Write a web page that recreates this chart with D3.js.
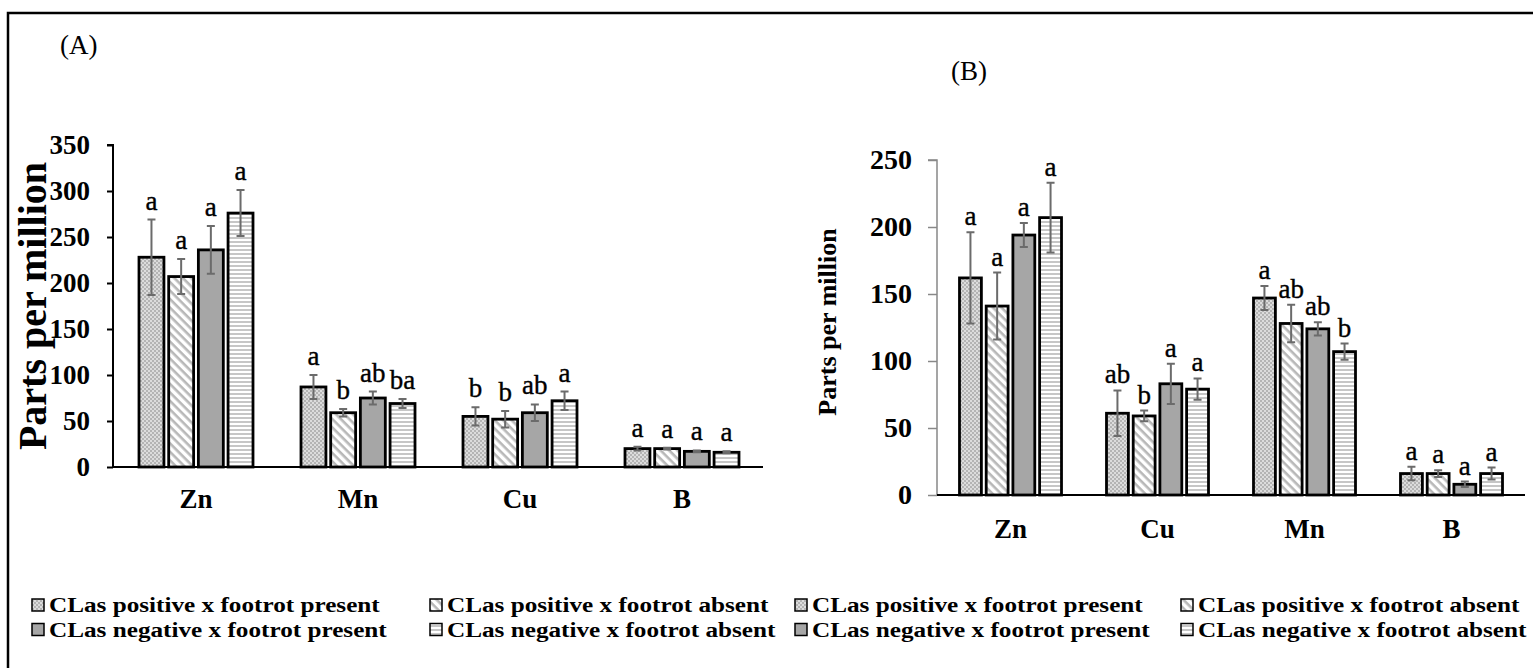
<!DOCTYPE html>
<html><head><meta charset="utf-8">
<script src="https://cdn.jsdelivr.net/npm/d3@7"></script>
<style>body{margin:0;background:#fff}svg{display:block}</style>
</head><body><svg id="c" width="1533" height="668"></svg>
<script>
const seriesNames = ["CLas positive x footrot present","CLas positive x footrot absent","CLas negative x footrot present","CLas negative x footrot absent"];
const catsA = ["Zn","Mn","Cu","B"];
const valsA = [[228,87,55,20],[207,59,52,20],[236,75,59,17],[276,69,72,16]];
const errA = [[41,13,10,2],[19,4,9,1],[26,7,9,1],[25,5,10,1]];
const lettersA = [["a","a","b","a"],["a","b","b","a"],["a","ab","ab","a"],["a","ba","a","a"]];
const ticksA = [0,50,100,150,200,250,300,350];
const catsB = ["Zn","Cu","Mn","B"];
const valsB = [[162,61,147,16],[141,59,128,16],[194,83,124,8],[207,79,107,16]];
const errB = [[34,17,9,5],[25,4,14,2.5],[9,15,5,2],[26,8,6,4.5]];
const lettersB = [["a","ab","a","a"],["a","b","ab","a"],["a","a","ab","a"],["a","a","b","a"]];
const ticksB = [0,50,100,150,200,250];

const svg = d3.select("#c");
const SERIF = "'Liberation Serif','Times New Roman',serif";
function bold(sel){ return sel.attr("font-family",SERIF).attr("font-weight","bold").attr("fill","#000"); }
const defs = svg.append("defs");
const p0 = defs.append("pattern").attr("id","p0").attr("patternUnits","userSpaceOnUse").attr("width",4).attr("height",4);
p0.append("rect").attr("width",4).attr("height",4).attr("fill","#dcdcdc");
p0.append("rect").attr("width",2).attr("height",2).attr("fill","#b4b4b4");
p0.append("rect").attr("x",2).attr("y",2).attr("width",2).attr("height",2).attr("fill","#b4b4b4");
const p1 = defs.append("pattern").attr("id","p1").attr("patternUnits","userSpaceOnUse").attr("width",6).attr("height",6).attr("patternTransform","rotate(45)");
p1.append("rect").attr("width",6).attr("height",6).attr("fill","#fff");
p1.append("rect").attr("width",6).attr("height",2.6).attr("fill","#b8b8b8");
const p3 = defs.append("pattern").attr("id","p3").attr("patternUnits","userSpaceOnUse").attr("width",4).attr("height",4);
p3.append("rect").attr("width",4).attr("height",4).attr("fill","#fff");
p3.append("rect").attr("y",1).attr("width",4).attr("height",2).attr("fill","#c6c6c6");
const fills = ["url(#p0)","url(#p1)","#a6a6a6","url(#p3)"];

svg.append("rect").attr("x",8).attr("y",13).attr("width",1540).attr("height",680).attr("fill","none").attr("stroke","#000").attr("stroke-width",2.5);

function panel(o){
  const g = svg.append("g");
  const y = d3.scaleLinear().domain([0,o.max]).range([o.y0,o.y1]);
  const x = d3.scaleBand().domain(o.cats).range([o.xl,o.xr]);
  const xi = d3.scaleBand().domain(d3.range(4)).range([-o.gw/2,o.gw/2]).paddingInner(o.pin);
  const ya = g.append("g").attr("transform",`translate(${o.ax},0)`)
    .call(d3.axisLeft(y).tickValues(o.ticks).tickSize(o.tl).tickPadding(o.tp));
  ya.select(".domain").attr("stroke",o.axc).attr("stroke-width",o.axw).attr("d",`M-${o.tl},${o.y1}H0V${o.y0}`);
  ya.selectAll(".tick line").attr("stroke",o.axc).attr("stroke-width",o.axw);
  bold(ya.selectAll(".tick text").attr("font-size",o.tfs));
  for(let s=0;s<4;s++){
    o.cats.forEach((c,i)=>{
      const cx = x(c)+x.bandwidth()/2 + xi(s);
      const v = o.vals[s][i], e = o.errs[s][i];
      g.append("rect").attr("x",cx).attr("y",y(v)).attr("width",xi.bandwidth()).attr("height",o.y0-y(v))
        .attr("fill",fills[s]).attr("stroke","#000").attr("stroke-width",2.8);
      const mx = cx+xi.bandwidth()/2;
      g.append("path").attr("d",`M${mx},${y(v+e)}V${y(v-e)}M${mx-4},${y(v+e)}H${mx+4}M${mx-4},${y(v-e)}H${mx+4}`)
        .attr("stroke","#6b6b6b").attr("stroke-width",2).attr("fill","none");
      g.append("text").attr("x",mx).attr("y",y(v+e)-o.lo).attr("text-anchor","middle")
        .attr("font-family",SERIF).attr("font-size",o.lfs).attr("stroke","#000").attr("stroke-width",0.35).text(o.letters[s][i]);
    });
  }
  g.append("line").attr("x1",o.ax).attr("x2",o.xr).attr("y1",o.y0).attr("y2",o.y0).attr("stroke","#000").attr("stroke-width",2.2);
  o.cats.forEach(c=>{
    bold(g.append("text").attr("x",x(c)+x.bandwidth()/2).attr("y",o.xly).attr("text-anchor","middle")
      .attr("font-size",o.xfs).text(c));
  });
  bold(g.append("text").attr("transform",`translate(${o.ytx},${o.yty}) rotate(-90)`).attr("text-anchor","middle")
    .attr("font-size",o.ytfs).text("Parts per million"));
  g.append("text").attr("x",o.lblx).attr("y",o.lbly).attr("font-family",SERIF).attr("font-size",27).text(o.label);
  seriesNames.forEach((n,s)=>{
    const lx = o.legx[s%2], ly = o.legy[Math.floor(s/2)];
    g.append("rect").attr("x",lx).attr("y",ly-13).attr("width",12).attr("height",12).attr("fill",fills[s]).attr("stroke","#000").attr("stroke-width",1.5);
    bold(g.append("text").attr("transform",`translate(${lx+17},${ly}) scale(1.2,1)`).attr("font-size",o.lgfs).text(n));
  });
}

panel({max:350,y0:467,y1:145,cats:catsA,vals:valsA,errs:errA,letters:lettersA,ticks:ticksA,
  xl:115,xr:763,ax:113,gw:114,pin:0.16,tl:6,tp:17,axc:"#000",axw:2,tfs:27,lo:10,lfs:27,
  xly:508,xfs:27,ytx:46,yty:306,ytfs:40,label:"(A)",lblx:60,lbly:54,
  legx:[32,430],legy:[612,636.5],lgfs:21});
panel({max:250,y0:495,y1:160,cats:catsB,vals:valsB,errs:errB,letters:lettersB,ticks:ticksB,
  xl:937,xr:1525,ax:937,gw:102,pin:0.18,tl:9,tp:16,axc:"#888",axw:1.5,tfs:28,lo:7,lfs:27,
  xly:538,xfs:27,ytx:836,yty:322,ytfs:26,label:"(B)",lblx:951,lbly:80,
  legx:[795,1181],legy:[612,636.5],lgfs:21});
</script></body></html>
